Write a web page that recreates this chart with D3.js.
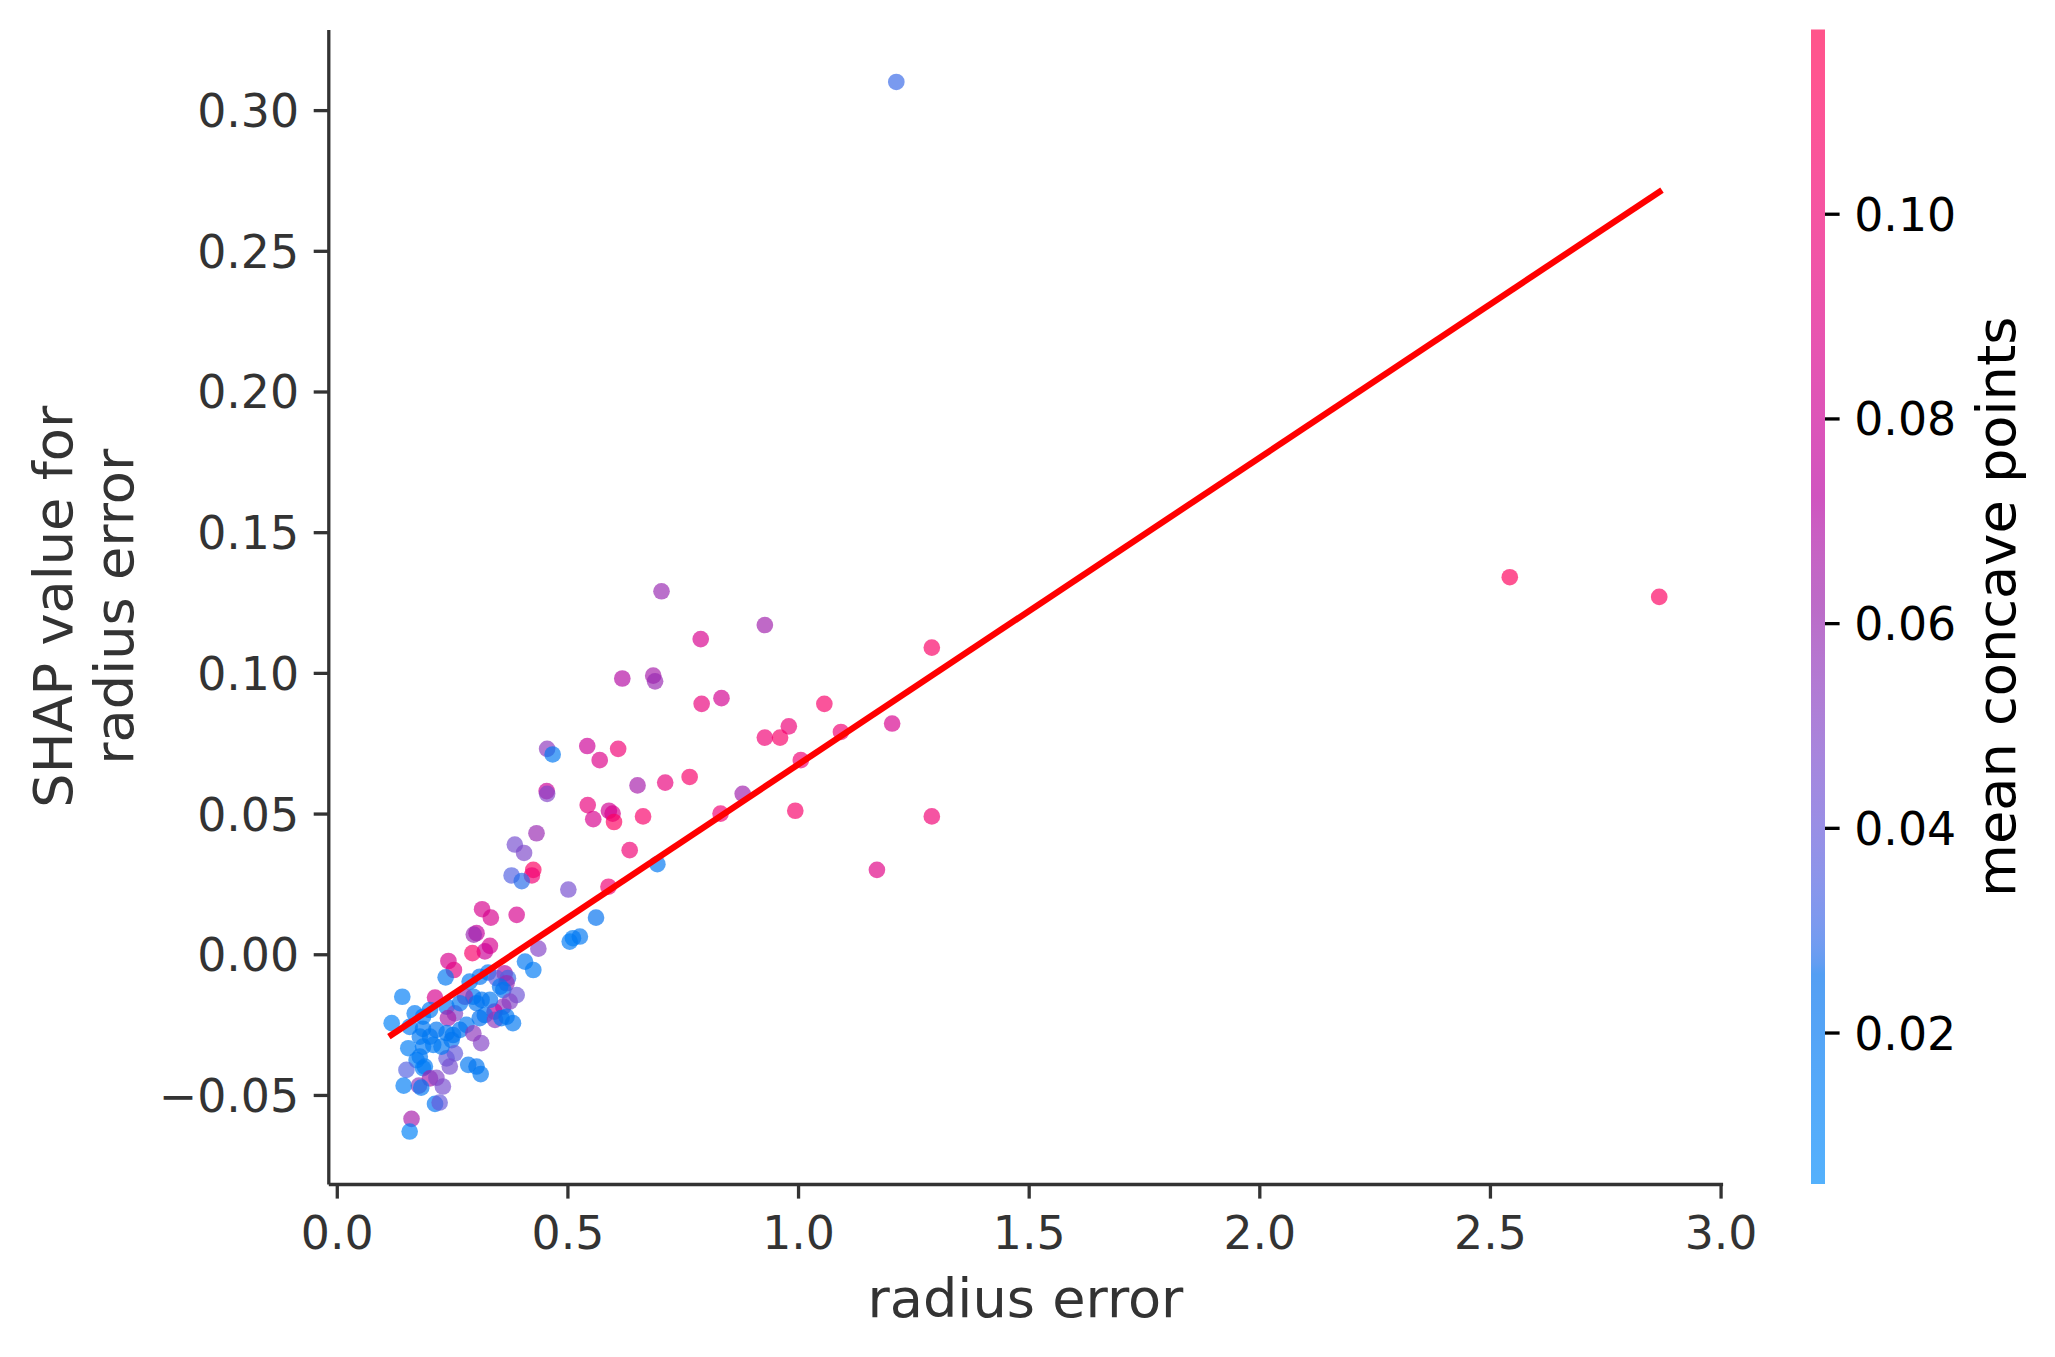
<!DOCTYPE html>
<html>
<head>
<meta charset="utf-8">
<script src="https://cdn.jsdelivr.net/npm/d3@7"></script>
<style>
  body { margin: 0; background: #fff; }
  svg { display: block; font-family: "DejaVu Sans", sans-serif; }
</style>
</head>
<body>
<svg id="chart"></svg>
<script>
// radius error (x), SHAP value (y) and mean concave points (colour) per sample
const radiusError = [
  1.213, 2.543, 2.867, 1.290, 0.928, 0.704, 0.789, 0.619, 0.686, 0.690,
  0.791, 0.834, 1.057, 1.204, 0.980, 0.928, 0.961, 1.093, 1.006, 0.880,
  0.832, 0.994, 1.290, 1.171, 0.456, 0.468, 0.543, 0.570, 0.610, 0.652,
  0.712, 0.765, 0.455, 0.456, 0.544, 0.556, 0.590, 0.598, 0.601, 0.664,
  0.635, 0.433, 0.386, 0.406, 0.426, 0.423, 0.379, 0.401, 0.502, 0.589,
  0.695, 0.315, 0.334, 0.390, 0.562, 0.303, 0.297, 0.505, 0.512, 0.527,
  0.437, 0.332, 0.321, 0.294, 0.408, 0.426, 0.242, 0.254, 0.236, 0.364,
  0.371, 0.288, 0.310, 0.328, 0.346, 0.368, 0.361, 0.354, 0.390, 0.375,
  0.361, 0.342, 0.332, 0.296, 0.314, 0.278, 0.213, 0.142, 0.119, 0.169,
  0.202, 0.187, 0.238, 0.256, 0.267, 0.303, 0.321, 0.310, 0.281, 0.267,
  0.241, 0.343, 0.368, 0.382, 0.158, 0.187, 0.216, 0.238, 0.313, 0.296,
  0.252, 0.249, 0.256, 0.238, 0.245, 0.227, 0.209, 0.202, 0.180, 0.155,
  0.187, 0.180, 0.173, 0.187, 0.191, 0.151, 0.285, 0.303, 0.312, 0.230,
  0.202, 0.216, 0.178, 0.183, 0.145, 0.213, 0.223, 0.162, 0.158, 0.357,
];
const shapValue = [
  0.310, 0.134, 0.127, 0.109, 0.117, 0.129, 0.112, 0.098, 0.099, 0.097,
  0.089, 0.091, 0.089, 0.082, 0.081, 0.077, 0.077, 0.079, 0.069, 0.057,
  0.050, 0.051, 0.049, 0.030, 0.073, 0.071, 0.074, 0.069, 0.073, 0.060,
  0.061, 0.063, 0.058, 0.057, 0.053, 0.048, 0.051, 0.050, 0.047, 0.049,
  0.037, 0.043, 0.039, 0.036, 0.030, 0.028, 0.028, 0.026, 0.023, 0.024,
  0.032, 0.016, 0.013, 0.014, 0.013, 0.0075, 0.007, 0.0045, 0.0057, 0.0063,
  0.002, 0.003, 0.001, 0.0004, -0.0026, -0.0056, -0.0024, -0.0056, -0.0082, -0.0068,
  -0.0085, -0.0097, -0.008, -0.0065, -0.0085, -0.0103, -0.0127, -0.0115, -0.0145, -0.0168,
  -0.0186, -0.0204, -0.0162, -0.0151, -0.0162, -0.0151, -0.0154, -0.0151, -0.0245, -0.021,
  -0.0198, -0.0222, -0.0186, -0.021, -0.0174, -0.0174, -0.0216, -0.0227, -0.0251, -0.0269,
  -0.0227, -0.0233, -0.0222, -0.0245, -0.0258, -0.0265, -0.0269, -0.028, -0.0316, -0.0281,
  -0.0287, -0.0305, -0.0352, -0.037, -0.0399, -0.0328, -0.0322, -0.0293, -0.0293, -0.0334,
  -0.0328, -0.0364, -0.0376, -0.0405, -0.0399, -0.0411, -0.0393, -0.0399, -0.0426, -0.047,
  -0.0441, -0.0439, -0.0467, -0.0474, -0.0467, -0.0532, -0.0527, -0.0585, -0.063, -0.0227,
];
const concavePoints = [
  0.030, 0.112, 0.110, 0.107, 0.063, 0.060, 0.085, 0.070, 0.065, 0.060,
  0.095, 0.083, 0.105, 0.085, 0.098, 0.100, 0.106, 0.100, 0.100, 0.063,
  0.100, 0.105, 0.100, 0.090, 0.055, 0.020, 0.080, 0.088, 0.100, 0.065,
  0.095, 0.105, 0.080, 0.050, 0.095, 0.085, 0.082, 0.085, 0.110, 0.105,
  0.100, 0.060, 0.045, 0.048, 0.110, 0.100, 0.035, 0.028, 0.045, 0.100,
  0.020, 0.085, 0.085, 0.085, 0.025, 0.075, 0.060, 0.018, 0.015, 0.020,
  0.050, 0.085, 0.080, 0.105, 0.020, 0.018, 0.085, 0.092, 0.020, 0.070,
  0.030, 0.020, 0.022, 0.020, 0.040, 0.060, 0.025, 0.020, 0.042, 0.050,
  0.055, 0.075, 0.020, 0.020, 0.022, 0.060, 0.085, 0.015, 0.012, 0.018,
  0.020, 0.018, 0.020, 0.050, 0.020, 0.022, 0.020, 0.025, 0.020, 0.022,
  0.065, 0.055, 0.020, 0.020, 0.018, 0.020, 0.022, 0.020, 0.050, 0.055,
  0.020, 0.022, 0.040, 0.040, 0.045, 0.020, 0.018, 0.020, 0.020, 0.015,
  0.018, 0.020, 0.018, 0.015, 0.018, 0.035, 0.020, 0.022, 0.020, 0.045,
  0.065, 0.050, 0.055, 0.020, 0.015, 0.020, 0.040, 0.065, 0.012, 0.022,
];

// fitted trend line, end points
const trendX = [0.113, 2.873];
const trendY = [-0.0293, 0.2716];

const xTicks = [0, 0.5, 1, 1.5, 2, 2.5, 3];
const yTicks = [-0.05, 0, 0.05, 0.1, 0.15, 0.2, 0.25, 0.3];
const colorDomain = [0.0052, 0.118];
const colorTicks = [0.02, 0.04, 0.06, 0.08, 0.1];

const width = 2055;
const height = 1357;
const plot = { left: 328.3, right: 1722.6, top: 29.5, bottom: 1184 };
const bar = { x: 1811, w: 14 };
const axisColor = "#333333";
const tickFont = 45.8;
const labelFont = 54.2;
const alpha = 0.67;

// shap red_blue colormap: lch path from blue to red
function lchToRgb(l, c, h) {
  const a = c * Math.cos(h);
  const b = c * Math.sin(h);
  const fy = (l + 16) / 116;
  const fx = fy + a / 500;
  const fz = fy - b / 200;
  const inv = (t) => (t > 6 / 29 ? t * t * t : 3 * (6 / 29) ** 2 * (t - 4 / 29));
  const X = 0.95047 * inv(fx);
  const Y = inv(fy);
  const Z = 1.08883 * inv(fz);
  const lin = [
    3.2406 * X - 1.5372 * Y - 0.4986 * Z,
    -0.9689 * X + 1.8758 * Y + 0.0415 * Z,
    0.0557 * X - 0.204 * Y + 1.057 * Z,
  ];
  const gam = (v) => {
    v = Math.max(0, Math.min(1, v));
    return v <= 0.0031308 ? 12.92 * v : 1.055 * Math.pow(v, 1 / 2.4) - 0.055;
  };
  return d3.rgb(...lin.map((v) => gam(v) * 255));
}

const nsteps = 100;
const stops = d3.range(nsteps).map((i) => {
  const t = i / (nsteps - 1);
  const l = i < 50 ? 54 - (14 * i) / 49 : 40 + (14 * (i - 50)) / 49;
  const c = 70 + 20 * t;
  const h = 4.6588 + t * (0.35470565 + 2 * Math.PI - 4.6588);
  return { t, color: lchToRgb(l, c, h).formatHex() };
});
const cmap = d3
  .scaleLinear()
  .domain(stops.map((s) => s.t))
  .range(stops.map((s) => s.color))
  .clamp(true);
const norm = d3.scaleLinear().domain(colorDomain).range([0, 1]).clamp(true);

function translate(x, y) {
  return `translate(${x},${y})`;
}

const svg = d3
  .select("#chart")
  .attr("width", width)
  .attr("height", height);

// matplotlib style 5% margins
const xExt = d3.extent(radiusError);
const yExt = d3.extent(shapValue);
const xPad = (xExt[1] - xExt[0]) * 0.05;
const yPad = (yExt[1] - yExt[0]) * 0.05;

const x = d3
  .scaleLinear()
  .domain([xExt[0] - xPad, xExt[1] + xPad])
  .range([plot.left, plot.right]);
const y = d3
  .scaleLinear()
  .domain([yExt[0] - yPad, yExt[1] + yPad])
  .range([plot.bottom, plot.top]);

const points = radiusError.map((v, i) => ({
  x: v,
  y: shapValue[i],
  c: concavePoints[i],
}));

// dots
svg
  .append("g")
  .selectAll("circle")
  .data(points)
  .enter()
  .append("circle")
  .attr("cx", (d) => x(d.x))
  .attr("cy", (d) => y(d.y))
  .attr("r", 8.33)
  .attr("fill", (d) => cmap(norm(d.c)))
  .attr("fill-opacity", alpha);

// trend line
svg
  .append("path")
  .datum(trendX.map((v, i) => [v, trendY[i]]))
  .attr("d", d3.line().x((d) => x(d[0])).y((d) => y(d[1])))
  .attr("stroke", "#ff0000")
  .attr("stroke-width", 6.25)
  .attr("fill", "none");

// axes
const xAxis = svg
  .append("g")
  .attr("transform", translate(0, plot.bottom))
  .call(
    d3
      .axisBottom(x)
      .tickValues(xTicks)
      .tickFormat(d3.format(".1f"))
      .tickSize(14.6)
      .tickSizeOuter(0)
      .tickPadding(14.6)
  );
const yAxis = svg
  .append("g")
  .attr("transform", translate(plot.left, 0))
  .call(
    d3
      .axisLeft(y)
      .tickValues(yTicks)
      .tickFormat(d3.format(".2f"))
      .tickSize(14.6)
      .tickSizeOuter(0)
      .tickPadding(14.6)
  );

[xAxis, yAxis].forEach((g) => {
  g.select(".domain").attr("stroke", axisColor).attr("stroke-width", 3.3);
  g.selectAll(".tick line").attr("stroke", axisColor).attr("stroke-width", 3.3);
  g.selectAll(".tick text")
    .attr("fill", axisColor)
    .style("font-size", `${tickFont}px`)
    .style("font-family", '"DejaVu Sans", sans-serif');
});
xAxis.selectAll(".tick text").attr("dy", "0.78em");
yAxis.selectAll(".tick text").attr("dy", "0.36em");

// axis labels
svg
  .append("text")
  .attr("x", (plot.left + plot.right) / 2)
  .attr("y", 1317)
  .attr("text-anchor", "middle")
  .attr("fill", axisColor)
  .style("font-size", `${labelFont}px`)
  .text("radius error");

const yLabel = svg
  .append("text")
  .attr("transform", `${translate(71.7, (plot.top + plot.bottom) / 2)} rotate(-90)`)
  .attr("text-anchor", "middle")
  .attr("fill", axisColor)
  .style("font-size", `${labelFont}px`);
yLabel.append("tspan").attr("x", 0).attr("dy", 0).text("SHAP value for");
yLabel.append("tspan").attr("x", 0).attr("dy", 61).text("radius error");

// colour bar
const grad = svg
  .append("defs")
  .append("linearGradient")
  .attr("id", "cbar")
  .attr("x1", 0)
  .attr("y1", 1)
  .attr("x2", 0)
  .attr("y2", 0);
grad
  .selectAll("stop")
  .data(stops)
  .enter()
  .append("stop")
  .attr("offset", (d) => d.t)
  .attr("stop-color", (d) => d.color);

svg
  .append("rect")
  .attr("x", bar.x)
  .attr("y", plot.top)
  .attr("width", bar.w)
  .attr("height", plot.bottom - plot.top)
  .attr("fill", "url(#cbar)")
  .attr("fill-opacity", alpha);

const cScale = d3.scaleLinear().domain(colorDomain).range([plot.bottom, plot.top]);
const cAxis = svg
  .append("g")
  .attr("transform", translate(bar.x + bar.w, 0))
  .call(
    d3
      .axisRight(cScale)
      .tickValues(colorTicks)
      .tickFormat(d3.format(".2f"))
      .tickSize(14.6)
      .tickSizeOuter(0)
      .tickPadding(14.6)
  );
cAxis.select(".domain").remove();
cAxis.selectAll(".tick line").attr("stroke", "#000").attr("stroke-width", 3.3);
cAxis
  .selectAll(".tick text")
  .attr("fill", "#000")
  .attr("dy", "0.36em")
  .style("font-size", `${tickFont}px`)
  .style("font-family", '"DejaVu Sans", sans-serif');

svg
  .append("text")
  .attr("transform", `${translate(2015, (plot.top + plot.bottom) / 2)} rotate(-90)`)
  .attr("text-anchor", "middle")
  .attr("fill", "#000")
  .style("font-size", `${labelFont}px`)
  .text("mean concave points");
</script>
</body>
</html>
